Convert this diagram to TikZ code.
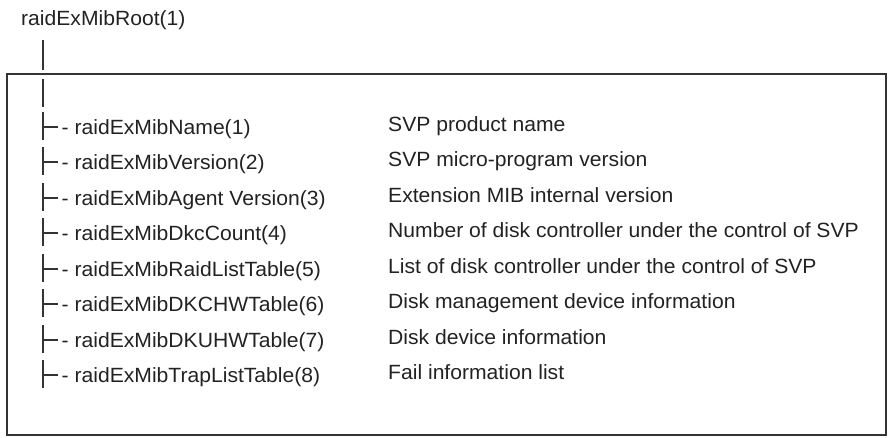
\documentclass[tikz,border=0pt]{standalone}
\usepackage{fontspec}
\setmainfont{Liberation Sans}[FakeStretch=1.025]
\usepackage{xcolor}
\usepackage{tikz}
\usetikzlibrary{positioning}
\definecolor{inkgray}{HTML}{222222}
\definecolor{rulegray}{HTML}{333333}

\begin{document}
\begin{tikzpicture}[
  x=1pt, y=-1pt,
  font=\fontsize{20.6}{24}\selectfont,
  text=inkgray,
  mib/.style={anchor=west, inner sep=0pt, text height=14.8pt, text depth=0pt},
  desc/.style={anchor=west, inner sep=0pt, text height=14.8pt, text depth=0pt},
  trunk/.style={line width=1.5pt, draw=rulegray},
  frame/.style={line width=1.7pt, draw=rulegray}
]
\useasboundingbox (0,0) rectangle (889,437);

%% ---- root -----------------------------------------------------------------
\node[mib] (root) at (21,18) {raidExMibRoot(1)};
\coordinate (stem) at (43,40);
\draw[trunk] (stem) -- ++(0,30);

\draw[frame] (7,74) rectangle (886,435);
\draw[trunk] (stem) ++(0,39) -- ++(0,28);

%% ---- children -------------------------------------------------------------
\node[mib] (name)     at (61.5,127) {-\ raidExMibName(1)};
\node[mib] (version)  at (61.5,162) {-\ raidExMibVersion(2)};
\node[mib] (agent)    at (61.5,198) {-\ raidExMibAgent Version(3)};
\node[mib] (dkccount) at (61.5,233) {-\ raidExMibDkcCount(4)};
\node[mib] (raidlist) at (61.5,269) {-\ raidExMibRaidListTable(5)};
\node[mib] (dkchw)    at (61.5,304) {-\ raidExMibDKCHWTable(6)};
\node[mib] (dkuhw)    at (61.5,340) {-\ raidExMibDKUHWTable(7)};
\node[mib] (traplist) at (61.5,375) {-\ raidExMibTrapListTable(8)};

\draw[trunk] ([xshift=-3.5pt]name.west)     -- ++(-15,0) ++(0,-15) -- ++(0,28);
\draw[trunk] ([xshift=-3.5pt]version.west)  -- ++(-15,0) ++(0,-15) -- ++(0,28);
\draw[trunk] ([xshift=-3.5pt]agent.west)    -- ++(-15,0) ++(0,-15) -- ++(0,28);
\draw[trunk] ([xshift=-3.5pt]dkccount.west) -- ++(-15,0) ++(0,-15) -- ++(0,28);
\draw[trunk] ([xshift=-3.5pt]raidlist.west) -- ++(-15,0) ++(0,-15) -- ++(0,28);
\draw[trunk] ([xshift=-3.5pt]dkchw.west)    -- ++(-15,0) ++(0,-15) -- ++(0,28);
\draw[trunk] ([xshift=-3.5pt]dkuhw.west)    -- ++(-15,0) ++(0,-15) -- ++(0,28);
\draw[trunk] ([xshift=-3.5pt]traplist.west) -- ++(-15,0) ++(0,-15) -- ++(0,28);

%% ---- descriptions ---------------------------------------------------------
\node[desc] (dname)     at (388,124) {SVP product name};
\node[desc] (dversion)  at (388,159) {SVP micro-program version};
\node[desc] (dagent)    at (388,195) {Extension MIB internal version};
\node[desc] (ddkccount) at (388,230) {Number of disk controller under the control of SVP};
\node[desc] (draidlist) at (388,266) {List of disk controller under the control of SVP};
\node[desc] (ddkchw)    at (388,301) {Disk management device information};
\node[desc] (ddkuhw)    at (388,337) {Disk device information};
\node[desc] (dtraplist) at (388,372) {Fail information list};

\end{tikzpicture}
\end{document}
